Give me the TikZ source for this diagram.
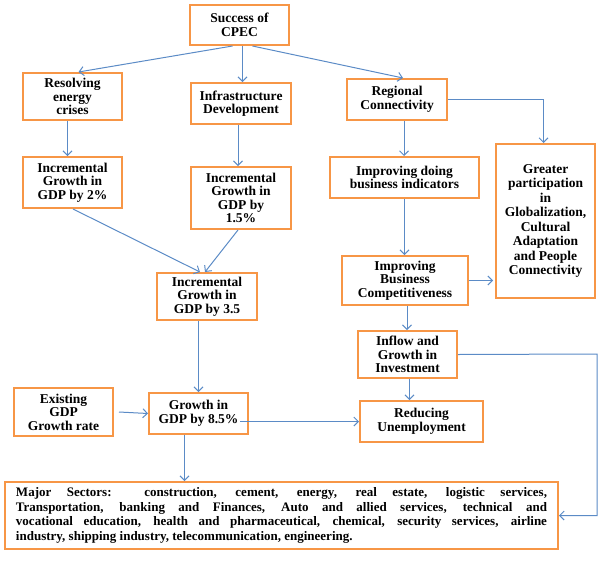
\documentclass[tikz,border=0pt]{standalone}
\usepackage{fontspec}
\setmainfont{Liberation Serif}
\usepackage{xcolor}
\usepackage{tikz}
\usetikzlibrary{arrows.meta,positioning}
\definecolor{cpecorange}{HTML}{F79646}
\definecolor{cpecblue}{HTML}{5B8BC6}

\begin{document}
\begin{tikzpicture}[x=1pt,y=-1pt,
  font=\fontsize{13.5}{13.5}\selectfont\bfseries,
  cbox/.style={draw=cpecorange,line width=2pt,fill=white,align=center,inner sep=2pt},
  flow/.style={-{Straight Barb[length=4.5pt,width=9pt]},cpecblue,line width=1pt}]
\useasboundingbox (0,0) rectangle (600,568);
\node[cbox,minimum width=99pt,minimum height=40pt](cpec) at (239.5,25){Success of\\CPEC};
\node[cbox,minimum width=99pt,minimum height=47pt](energy) at (72.5,96.5){Resolving\\energy\\crises};
\node[cbox,minimum width=100pt,minimum height=41pt](infra) at (241,103.5){Infrastructure\\Development};
\node[cbox,minimum width=100pt,minimum height=41pt](regional) at (397,99.5){Regional\\Connectivity};
\node[cbox,minimum width=99pt,minimum height=51pt](inctwo) at (72.5,182.5){Incremental\\Growth in\\GDP by 2\%};
\node[cbox,minimum width=100pt,minimum height=62pt](incone) at (241,198){Incremental\\Growth in\\GDP by\\1.5\%};
\node[cbox,minimum width=149pt,minimum height=41pt](doing) at (404.5,177.5){Improving doing\\business indicators};
\node[cbox,minimum width=99pt,minimum height=154pt,font=\fontsize{13.5}{14.5}\selectfont\bfseries](global) at (545.5,221)
  {Greater\\participation\\in\\Globalization,\\Cultural\\Adaptation\\and People\\Connectivity};
\node[cbox,minimum width=100pt,minimum height=47pt](incthree) at (207,296.5){Incremental\\Growth in\\GDP by 3.5};
\node[cbox,minimum width=126pt,minimum height=49pt](compete) at (405,280.5){Improving\\Business\\Competitiveness};
\node[cbox,minimum width=99pt,minimum height=47pt](inflow) at (407.5,354.5){Inflow and\\Growth in\\Investment};
\node[cbox,minimum width=99pt,minimum height=48pt](existing) at (63.5,412){Existing\\GDP\\Growth rate};
\node[cbox,minimum width=99pt,minimum height=41pt](growth) at (198.5,413.5){Growth in\\GDP by 8.5\%};
\node[cbox,minimum width=123pt,minimum height=41pt](reducing) at (421.5,421.5){Reducing\\Unemployment};
\node[cbox,align=justify,text width=531pt,inner xsep=11pt,minimum height=67pt,
  font=\fontsize{13}{14.5}\selectfont\bfseries](sectors) at (281.5,515.5)
  {Major Sectors:\hspace{4pt} construction, cement, energy, real estate, logistic services,\linebreak
   Transportation, banking and Finances, Auto and allied services, technical and\linebreak
   vocational education, health and pharmaceutical, chemical, security services, airline\linebreak
   industry, shipping industry, telecommunication, engineering.};
\coordinate (bend) at (597,354);
% top level
\draw[flow]([xshift=-7pt]cpec.south)--([xshift=6pt]energy.north);
\draw[flow]([xshift=3pt]cpec.south)--([xshift=3pt]cpec.south |- infra.north);
\draw[flow]([xshift=13pt]cpec.south)--([xshift=6pt]regional.north);
% left branch
\draw[flow]([xshift=-5pt]energy.south)--([xshift=-5pt]energy.south |- inctwo.north);
\draw[flow]([xshift=-3pt]infra.south)--([xshift=-3pt]infra.south |- incone.north);
\draw[flow]([xshift=-50pt]inctwo.south east)--([xshift=-7pt]incthree.north);
\draw[flow]([xshift=-3pt]incone.south)--([xshift=-2pt]incthree.north);
\draw[flow](growth.north |- incthree.south)--(growth.north);
\draw[flow]([xshift=5pt]existing.east)--(growth.west);
\draw[flow]([xshift=-9pt]growth.east |- reducing.west)--(reducing.west);
\draw[flow]([xshift=-14pt]growth.south)--([xshift=-14pt]growth.south |- sectors.north);
% right branch
\draw[flow](regional.east)-|([xshift=-2pt]global.north);
\draw[flow]([xshift=7pt]regional.south)--([xshift=7pt]regional.south |- doing.north);
\draw[flow](doing.south)--(doing.south |- compete.north);
\draw[flow](compete.east)--([xshift=-2pt]compete.east -| global.west);
\draw[flow]([xshift=2pt]compete.south)--([xshift=2pt]compete.south |- inflow.north);
\draw[flow]([xshift=2pt]inflow.south)--([xshift=2pt]inflow.south |- reducing.north);
\draw[flow](inflow.east)--(bend)|-(sectors.east);
\end{tikzpicture}
\end{document}
